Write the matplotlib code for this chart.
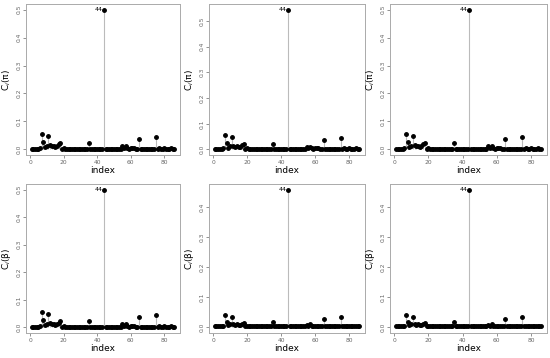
import numpy as np
import matplotlib.pyplot as plt

index = np.arange(1, 87)

# influence values (same profile for panels 1, 3, 4)
c_pi_a = [0.002, 0.002, 0.002, 0.002, 0.003, 0.005, 0.056, 0.026, 0.008, 0.012,
          0.049, 0.015, 0.012, 0.013, 0.010, 0.012, 0.018, 0.022, 0.003, 0.006,
          0.002, 0.002, 0.002, 0.002, 0.002, 0.002, 0.002, 0.002, 0.002, 0.002,
          0.002, 0.002, 0.002, 0.002, 0.024, 0.003, 0.002, 0.002, 0.002, 0.002,
          0.002, 0.002, 0.002, 0.500, 0.003, 0.002, 0.002, 0.002, 0.002, 0.002,
          0.002, 0.002, 0.002, 0.003, 0.011, 0.004, 0.012, 0.004, 0.003, 0.005,
          0.006, 0.005, 0.003, 0.002, 0.038, 0.002, 0.002, 0.002, 0.002, 0.002,
          0.002, 0.002, 0.002, 0.002, 0.046, 0.003, 0.006, 0.003, 0.002, 0.005,
          0.003, 0.002, 0.003, 0.006, 0.003, 0.002]

c_pi_b = [0.002, 0.002, 0.002, 0.002, 0.003, 0.005, 0.056, 0.025, 0.007, 0.012,
          0.048, 0.014, 0.011, 0.012, 0.010, 0.011, 0.017, 0.021, 0.003, 0.006,
          0.002, 0.002, 0.002, 0.002, 0.002, 0.002, 0.002, 0.002, 0.002, 0.002,
          0.002, 0.002, 0.002, 0.002, 0.022, 0.003, 0.002, 0.002, 0.002, 0.002,
          0.002, 0.002, 0.002, 0.545, 0.003, 0.002, 0.002, 0.002, 0.002, 0.002,
          0.002, 0.002, 0.002, 0.003, 0.010, 0.004, 0.011, 0.004, 0.003, 0.005,
          0.006, 0.005, 0.003, 0.002, 0.037, 0.002, 0.002, 0.002, 0.002, 0.002,
          0.002, 0.002, 0.002, 0.002, 0.045, 0.003, 0.006, 0.003, 0.002, 0.005,
          0.003, 0.002, 0.003, 0.006, 0.003, 0.002]

c_beta_b = [0.004, 0.004, 0.004, 0.004, 0.004, 0.006, 0.042, 0.019, 0.007, 0.010,
            0.036, 0.011, 0.009, 0.010, 0.008, 0.009, 0.012, 0.015, 0.004, 0.006,
            0.004, 0.004, 0.004, 0.004, 0.004, 0.004, 0.004, 0.004, 0.004, 0.004,
            0.004, 0.004, 0.004, 0.004, 0.018, 0.004, 0.004, 0.004, 0.004, 0.004,
            0.004, 0.004, 0.004, 0.458, 0.004, 0.004, 0.004, 0.004, 0.004, 0.004,
            0.004, 0.004, 0.004, 0.004, 0.009, 0.005, 0.010, 0.005, 0.004, 0.005,
            0.006, 0.005, 0.004, 0.004, 0.028, 0.004, 0.004, 0.004, 0.004, 0.004,
            0.004, 0.004, 0.004, 0.004, 0.034, 0.004, 0.006, 0.004, 0.004, 0.005,
            0.004, 0.004, 0.004, 0.006, 0.004, 0.004]

panel_values = [c_pi_a, c_pi_b, c_pi_a, c_pi_a, c_beta_b, c_beta_b]
panel_ylabels = ["C$_i$(π)"] * 3 + ["C$_i$(β)"] * 3
panel_yticks = [[0.0, 0.1, 0.2, 0.3, 0.4, 0.5]] * 4 + [[0.0, 0.1, 0.2, 0.3, 0.4]] * 2
xticks = [0, 20, 40, 60, 80]

# axes boxes in pixels (left, top, right, bottom)
boxes = [(26, 4, 180, 155), (209, 4, 365, 155), (390, 4, 547, 155),
         (26, 184, 180, 333), (209, 184, 365, 333), (390, 184, 547, 333)]

W, H = 550, 358
fig = plt.figure(figsize=(5.5, 3.58), dpi=100)

for vals, ylab, yt, (l, t, r, b) in zip(panel_values, panel_ylabels, panel_yticks, boxes):
    ax = fig.add_axes([l / W, 1 - b / H, (r - l) / W, (b - t) / H])
    vals = np.array(vals)
    ax.vlines(index, 0, vals, color="#bbbbbb", lw=0.8)
    ax.plot(index, vals, "o", color="black", ms=2.5)
    top = vals.max()
    k = int(np.argmax(vals))
    ax.text(index[k] - 0.8, top, str(index[k]), ha="right", va="center", fontsize=4.5)
    pad = 0.04 * top
    ax.set_ylim(-pad, top + pad)
    ax.set_xlim(1 - 0.04 * 85, 86 + 0.04 * 85)
    ax.set_xticks(xticks)
    ax.set_yticks(yt)
    ax.set_yticklabels([f"{v:.1f}" for v in yt], rotation=90, va="center")
    ax.tick_params(labelsize=4.3, length=2, width=0.5, colors="#666666", pad=1.5)
    for s in ax.spines.values():
        s.set_color("#aaaaaa")
        s.set_linewidth(0.7)
    ax.set_xlabel("index", fontsize=6.5, labelpad=0.5)
    ax.set_ylabel(ylab, fontsize=6.5, labelpad=2.5)

fig.savefig("out.png", dpi=100)
